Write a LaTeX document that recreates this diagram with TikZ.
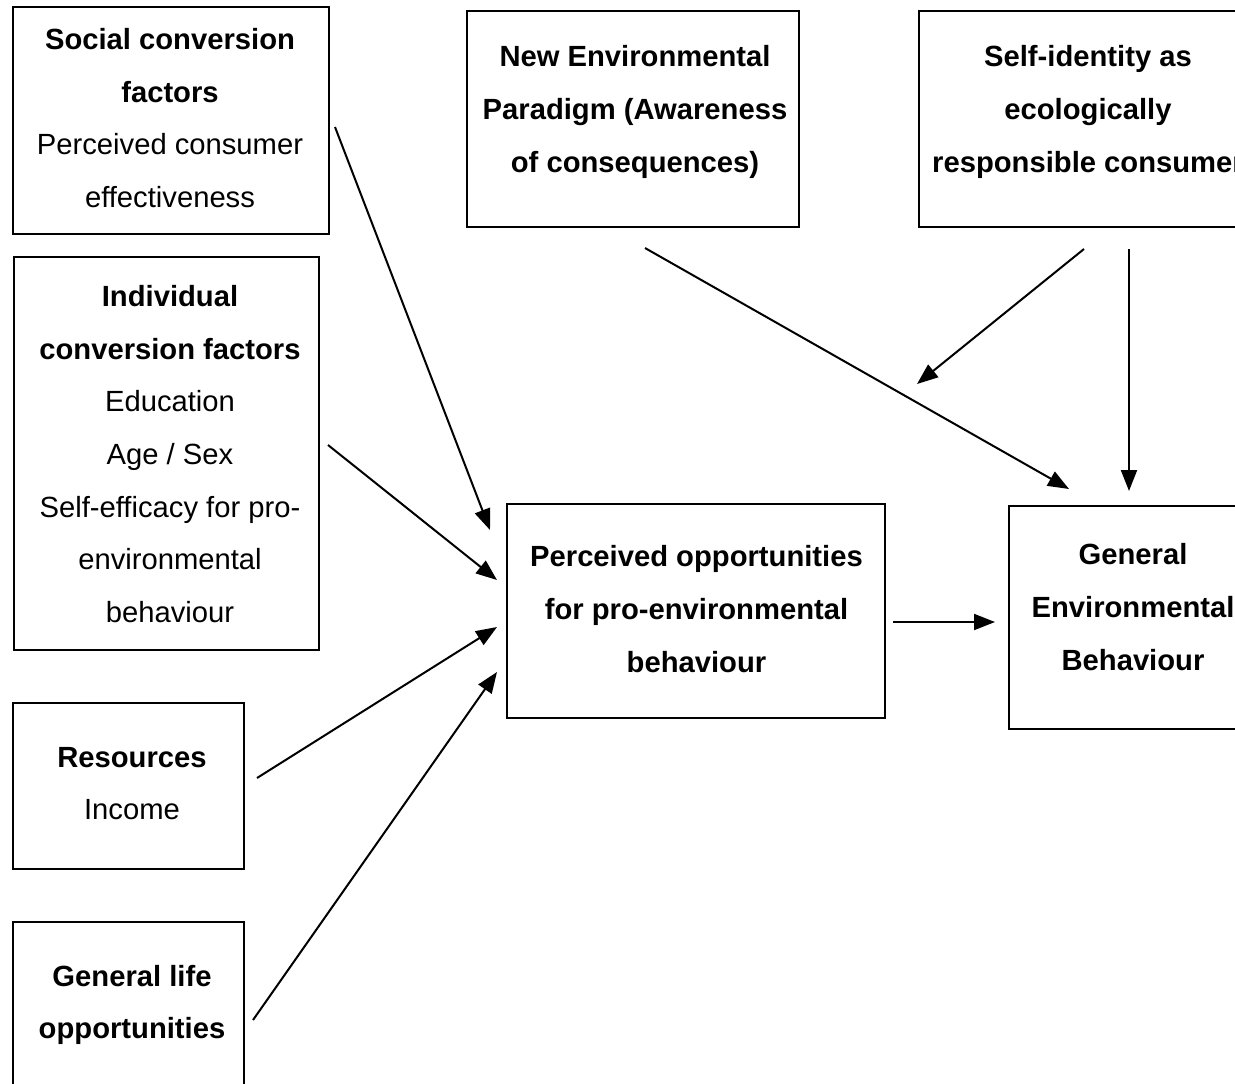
\documentclass[tikz,border=0pt]{standalone}
\usepackage{fontspec}
\setmainfont{Liberation Sans}
\usetikzlibrary{arrows.meta}
\begin{document}
\begin{tikzpicture}[x=1pt,y=-1pt,
  box/.style={draw=black,line width=1.8pt,inner sep=0pt,anchor=north west},
  txt/.style={align=center,inner sep=0pt,font=\fontsize{29.2}{52.6}\selectfont},
  arr/.style={line width=2pt,-{Triangle[length=21pt,width=16pt]}}]
\useasboundingbox (0,0) rectangle (1235,1084);
\clip (0,0) rectangle (1235,1084);

% boxes
\node[box,minimum width=316pt,minimum height=227pt] (bsoc) at (12,6) {};
\node[box,minimum width=305pt,minimum height=393pt] (bind) at (13,256) {};
\node[box,minimum width=231pt,minimum height=166pt] (bres) at (12,702) {};
\node[box,minimum width=231pt,minimum height=200pt] (blife) at (12,921) {};
\node[box,minimum width=332pt,minimum height=216pt] (bnep) at (466,10) {};
\node[box,minimum width=340pt,minimum height=216pt] (bself) at (918,10) {};
\node[box,minimum width=378pt,minimum height=214pt] (bopp) at (506,503) {};
\node[box,minimum width=260pt,minimum height=223pt] (bgeb) at (1008,505) {};

% texts
\node[txt] (tsoc) at (170,118) {\textbf{Social conversion}\\\textbf{factors}\\Perceived consumer\\effectiveness};
\node[txt] (tind) at (170,454) {\textbf{Individual}\\\textbf{conversion factors}\\Education\\Age / Sex\\Self-efficacy for pro-\\environmental\\behaviour};
\node[txt] (tres) at (132,783.5) {\textbf{Resources}\\Income};
\node[txt] (tlife) at (132,1005) {\textbf{General life}\\\textbf{opportunities}};
\node[txt] (tnep) at (635,112) {\textbf{New Environmental}\\\textbf{Paradigm (Awareness}\\\textbf{of consequences)}};
\node[txt] (tself) at (1088,112) {\textbf{Self-identity as}\\\textbf{ecologically}\\\textbf{responsible consumer}};
\node[txt] (topp) at (696.5,609) {\textbf{Perceived opportunities}\\\textbf{for pro-environmental}\\\textbf{behaviour}};
\node[txt] (tgeb) at (1133,607) {\textbf{General}\\\textbf{Environmental}\\\textbf{Behaviour}};

% connector ends
\coordinate (a1s) at (335,127);  \coordinate (a1e) at (490,530);
\coordinate (a2s) at (328,445);  \coordinate (a2e) at (497,580);
\coordinate (a3s) at (257,778);  \coordinate (a3e) at (497,627);
\coordinate (a4s) at (253,1020); \coordinate (a4e) at (497,672);
\coordinate (a5s) at (893,622);  \coordinate (a5e) at (995,622);
\coordinate (a6s) at (645,248);  \coordinate (a6e) at (1069,489);
\coordinate (a7s) at (1084,249); \coordinate (a7e) at (917,384);
\coordinate (a8s) at (1129,249); \coordinate (a8e) at (1129,491);

\draw[arr] (a1s) -- (a1e);
\draw[arr] (a2s) -- (a2e);
\draw[arr] (a3s) -- (a3e);
\draw[arr] (a4s) -- (a4e);
\draw[arr] (a5s) -- (a5e);
\draw[arr] (a6s) -- (a6e);
\draw[arr] (a7s) -- (a7e);
\draw[arr] (a8s) -- (a8e);
\end{tikzpicture}
\end{document}
